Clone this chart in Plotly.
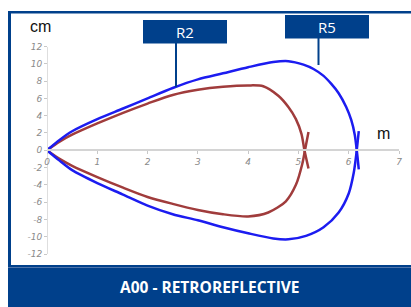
import plotly.graph_objects as go

W, H = 411, 307

# R2 curve (upper & lower branch), x in m, y in cm
r2_up_x = [0, 0.25, 0.5, 1, 1.5, 2, 2.5, 3, 3.5, 4, 4.3, 4.6, 4.8, 4.95, 5.06, 5.12, 5.2]
r2_up_y = [0, 1.0, 1.8, 3.1, 4.3, 5.4, 6.4, 7.0, 7.35, 7.5, 7.4, 6.3, 5.0, 3.6, 1.9, 0, -2.1]
r2_lo_x = [0, 0.25, 0.5, 1, 1.5, 2, 2.5, 3, 3.5, 4, 4.4, 4.75, 4.95, 5.08, 5.13, 5.2]
r2_lo_y = [0, -1.0, -1.8, -3.1, -4.3, -5.4, -6.2, -6.9, -7.4, -7.65, -7.2, -5.9, -4.0, -1.5, 0, 2.1]

# R5 curve
r5_up_x = [0, 0.25, 0.5, 1, 1.5, 2, 2.5, 3, 3.5, 4, 4.5, 4.8, 5.1, 5.3, 5.5, 5.65, 5.8, 5.95, 6.05, 6.12, 6.16, 6.2]
r5_up_y = [0, 1.2, 2.2, 3.6, 4.8, 6.0, 7.2, 8.2, 8.9, 9.6, 10.2, 10.3, 9.9, 9.4, 8.6, 7.7, 6.6, 5.0, 3.5, 1.8, 0, -2.2]
r5_lo_x = [0, 0.25, 0.5, 1, 1.5, 2, 2.5, 3, 3.5, 4, 4.5, 4.8, 5.15, 5.5, 5.8, 6.0, 6.1, 6.15, 6.2]
r5_lo_y = [0, -1.2, -2.3, -3.8, -5.1, -6.4, -7.4, -8.1, -8.9, -9.6, -10.2, -10.3, -9.9, -8.9, -7.2, -5.0, -2.6, -0.5, 2.2]

x_ticks = [0, 1, 2, 3, 4, 5, 6, 7]
y_ticks = [12, 10, 8, 6, 4, 2, 0, -2, -4, -6, -8, -10, -12]
y_tick_text = [str(v) for v in y_ticks]

labels = ["R2", "R5"]
title_text = "A00 - RETROREFLECTIVE"

BLUE_DARK = "#00408b"
R2_COLOR = "#a03c3c"
R5_COLOR = "#1c1cf0"


def px(x):
    return x / W


def py(y):
    return 1 - y / H


fig = go.Figure()
for xs, ys, c in [(r2_up_x, r2_up_y, R2_COLOR), (r2_lo_x, r2_lo_y, R2_COLOR),
                  (r5_up_x, r5_up_y, R5_COLOR), (r5_lo_x, r5_lo_y, R5_COLOR)]:
    fig.add_trace(go.Scatter(x=xs, y=ys, mode="lines",
                             line=dict(color=c, width=2.5, shape="spline", smoothing=0.8),
                             showlegend=False, hoverinfo="skip"))

tickfont = dict(family="DejaVu Sans", size=9, color="#8a8a8a", style="italic")

fig.update_layout(
    width=W, height=H, autosize=False,
    margin=dict(l=0, r=0, t=0, b=0, pad=0, autoexpand=False),
    paper_bgcolor="white", plot_bgcolor="rgba(0,0,0,0)",
    showlegend=False,
    xaxis=dict(domain=[px(47), px(399)], range=[0, 7], anchor="free", automargin=False,
               position=py(150), tickvals=x_ticks, ticktext=[str(v) for v in x_ticks],
               showgrid=False, zeroline=False, showline=True, linecolor="#d4d4d4",
               linewidth=2, ticks="outside", ticklen=3, tickcolor="#c8c8c8",
               tickfont=tickfont),
    yaxis=dict(domain=[py(254), py(46.5)], range=[-12, 12], anchor="free", automargin=False,
               position=px(47), tickvals=y_ticks, ticktext=y_tick_text,
               showgrid=False, zeroline=False, showline=True, linecolor="#dedede",
               linewidth=1, ticks="outside", ticklen=3, tickcolor="#c8c8c8",
               tickfont=tickfont),
)

shapes = [
    dict(type="rect", xref="paper", yref="paper", x0=px(8), x1=px(11), y0=py(265), y1=py(11),
         fillcolor=BLUE_DARK, line=dict(width=0), layer="below"),
    dict(type="rect", xref="paper", yref="paper", x0=px(8), x1=px(411), y0=py(13.5), y1=py(11),
         fillcolor=BLUE_DARK, line=dict(width=0), layer="below"),
    dict(type="rect", xref="paper", yref="paper", x0=px(8), x1=px(411), y0=0, y1=py(265),
         fillcolor=BLUE_DARK, line=dict(width=0)),
    dict(type="line", xref="paper", yref="paper", x0=px(8), x1=px(411), y0=py(267.5), y1=py(267.5),
         line=dict(color="#4f74aa", width=1)),
    dict(type="rect", xref="paper", yref="paper", x0=px(143), x1=px(227), y0=py(43.5), y1=py(20),
         fillcolor=BLUE_DARK, line=dict(width=0)),
    dict(type="rect", xref="paper", yref="paper", x0=px(285), x1=px(369), y0=py(38.5), y1=py(15),
         fillcolor=BLUE_DARK, line=dict(width=0)),
    dict(type="line", xref="paper", yref="paper", x0=px(176), x1=px(176), y0=py(43), y1=py(87),
         line=dict(color=BLUE_DARK, width=2)),
    dict(type="line", xref="paper", yref="paper", x0=px(318.5), x1=px(318.5), y0=py(38), y1=py(65),
         line=dict(color=BLUE_DARK, width=2)),
]
fig.update_layout(shapes=shapes)


def text_ann(text, x, y, size, color, family):
    return dict(text=text, x=px(x), y=py(y), xref="paper", yref="paper", showarrow=False,
                xanchor="center", yanchor="middle",
                font=dict(family=family, size=size, color=color))


ann = [
    text_ann(labels[0], 185, 32, 15, "white", "Open Sans"),
    text_ann(labels[1], 327, 27, 15, "white", "Open Sans"),
    text_ann("cm", 40, 26, 16, "#111", "Liberation Sans"),
    text_ann("m", 383, 133, 16, "#111", "Liberation Sans"),
    text_ann("<b>" + title_text + "</b>", 210, 287, 15.5, "white", "Open Sans"),
]
fig.update_layout(annotations=ann)

fig.write_html("out.html", config={"displayModeBar": False, "responsive": False},
               post_script="document.body.style.margin='0';document.body.style.overflow='hidden';")
